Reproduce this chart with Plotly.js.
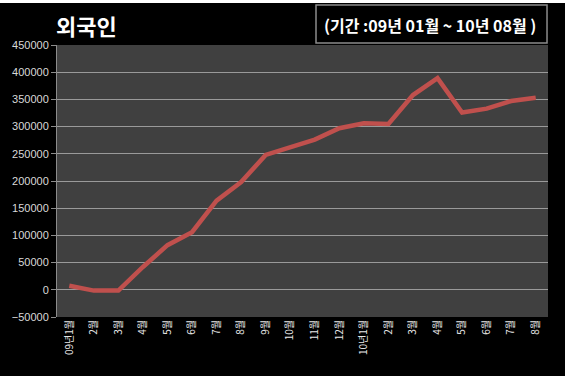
<!DOCTYPE html>
<html>
<head>
<meta charset="utf-8">
<script src="https://cdn.plot.ly/plotly-3.0.1.min.js"></script>
<style>
html,body{margin:0;padding:0;background:#ffffff;}
#chart{width:565px;height:373px;margin-top:3px;}
</style>
</head>
<body>
<div id="chart"></div>
<script>
var monthLabels = ["09년1월","2월","3월","4월","5월","6월","7월","8월","9월","10월","11월","12월","10년1월","2월","3월","4월","5월","6월","7월","8월"];
var foreigners = [7500, -1500, -1500, 42000, 82000, 106000, 164000, 198000, 248000, 261000, 276000, 297000, 306000, 305000, 358000, 389000, 326000, 333000, 347000, 353000];
var chartTitle = "외국인";
var periodText = "(기간 :09년 01월 ~ 10년 08월 )";

var idx = monthLabels.map(function(_, i){ return i; });

var trace = {
  x: idx,
  y: foreigners,
  type: 'scatter',
  mode: 'lines',
  line: {color: '#c0504d', width: 4.5},
  hoverinfo: 'skip'
};

var layout = {
  width: 565, height: 373,
  margin: {l: 57, r: 17, t: 42, b: 59},
  paper_bgcolor: '#000000',
  plot_bgcolor: '#404040',
  showlegend: false,
  font: {family: 'Liberation Sans, Arial, sans-serif', color: '#d9d9d9', size: 11},
  xaxis: {
    range: [-0.5, 19.5],
    tickvals: idx,
    ticktext: monthLabels,
    tickangle: -90,
    showgrid: false,
    zeroline: false,
    showline: false,
    ticks: '',
    tickfont: {family: 'Noto Sans CJK KR, sans-serif', size: 10, color: '#e8e8e8'},
    fixedrange: true
  },
  yaxis: {
    range: [-50000, 450000],
    dtick: 50000,
    tickformat: 'd',
    showgrid: true,
    gridcolor: '#9a9a9a',
    gridwidth: 1,
    zeroline: false,
    showline: true,
    linecolor: '#8c8c8c',
    ticks: 'outside',
    ticklen: 5,
    tickcolor: '#8c8c8c',
    tickfont: {family: 'Liberation Sans, Arial, sans-serif', size: 11, color: '#d9d9d9'},
    fixedrange: true
  },
  shapes: [
    {type: 'rect', xref: 'paper', yref: 'paper', x0: 0.5275, x1: 0.998, y0: 1.007, y1: 1.147,
     line: {color: '#8c8c8c', width: 1.5}, fillcolor: '#000000', layer: 'above'}
  ],
  annotations: [
    {text: '<b>' + chartTitle + '</b>', xref: 'paper', yref: 'paper', x: -0.006, y: 1.0735,
     xanchor: 'left', yanchor: 'middle', showarrow: false,
     font: {family: 'Noto Sans CJK KR, sans-serif', size: 22, color: '#ffffff'}},
    {text: '<b>' + periodText + '</b>', xref: 'paper', yref: 'paper', x: 0.76, y: 1.075,
     xanchor: 'center', yanchor: 'middle', showarrow: false,
     font: {family: 'Noto Sans CJK KR, sans-serif', size: 16, color: '#ffffff'}}
  ]
};

Plotly.newPlot('chart', [trace], layout, {staticPlot: true, displayModeBar: false});
</script>
</body>
</html>
